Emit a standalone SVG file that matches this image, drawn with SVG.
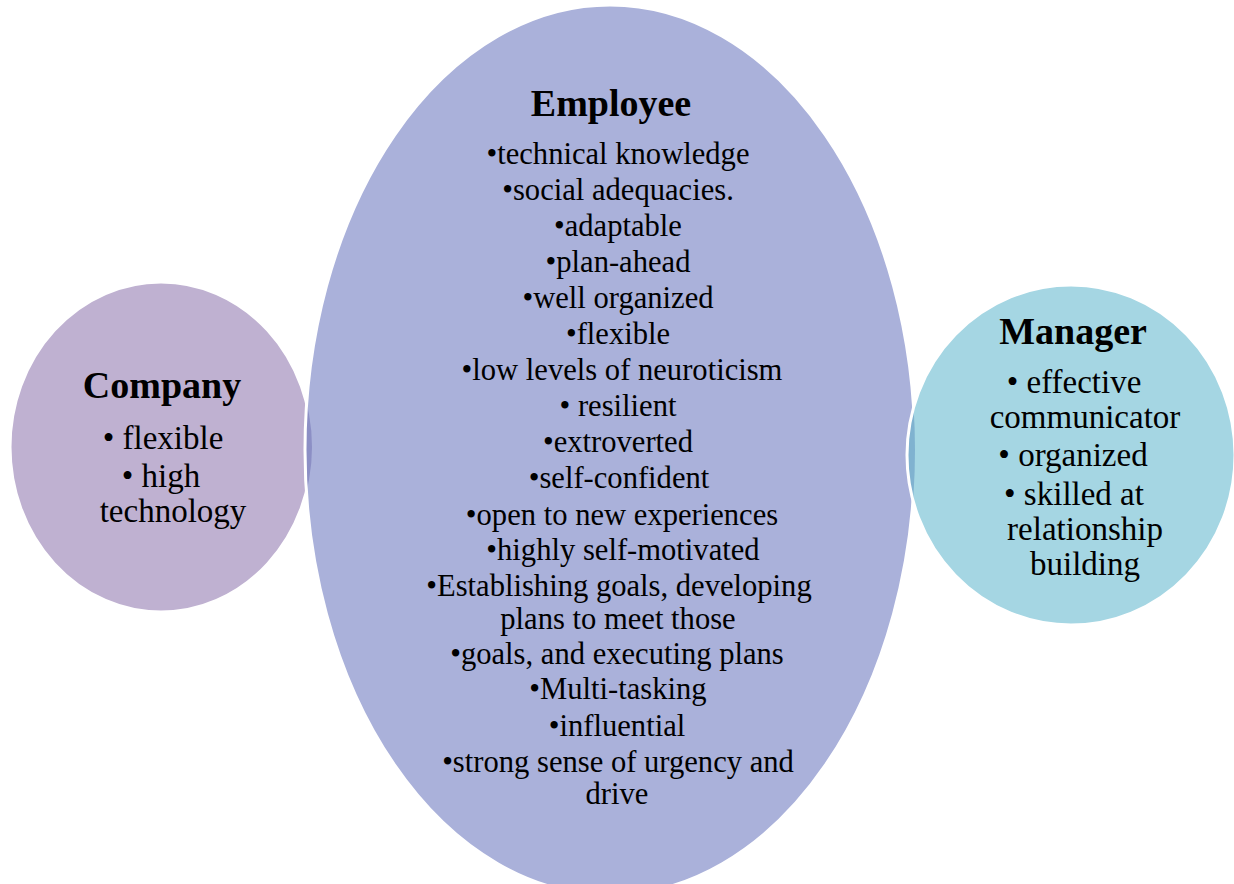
<svg xmlns="http://www.w3.org/2000/svg" width="1234" height="884" viewBox="0 0 1234 884">
<style>
.t{font-family:"Liberation Serif","Times New Roman",serif;fill:#000;text-anchor:middle}
.h{font-size:38px;font-weight:bold}
.e{font-size:30.6px}
.s{font-size:33px}
.out{fill:none;stroke:#fff;stroke-width:3}
</style>
<defs>
<clipPath id="clipEmp"><ellipse cx="610" cy="450" rx="305" ry="445"/></clipPath>
<clipPath id="clipMgr"><ellipse cx="1071" cy="455" rx="164" ry="170"/></clipPath>
</defs>
<rect width="1234" height="884" fill="#fff"/>
<g id="company">
<ellipse cx="161" cy="447" rx="151" ry="165" fill="#bfb1d1" stroke="#fff" stroke-width="3"/>
</g>
<g id="employee">
<ellipse cx="610" cy="450" rx="305" ry="445" fill="#aab1da"/>
<ellipse cx="161" cy="447" rx="151" ry="165" fill="#8c8fc5" clip-path="url(#clipEmp)"/>
<ellipse class="out" cx="610" cy="450" rx="305" ry="445"/>
</g>
<g id="manager">
<ellipse cx="1071" cy="455" rx="164" ry="170" fill="#a5d6e3"/>
<ellipse cx="610" cy="450" rx="305" ry="445" fill="#80b2d0" clip-path="url(#clipMgr)"/>
<ellipse class="out" cx="1071" cy="455" rx="164" ry="170"/>
</g>
<g id="company-text" class="t">
<text class="h" x="162" y="398">Company</text>
<text class="s" x="163" y="449">• flexible</text>
<text class="s" x="161" y="487">• high</text>
<text class="s" x="173" y="522">technology</text>
</g>
<g id="employee-text" class="t">
<text class="h" x="611" y="116">Employee</text>
<g class="e">
<text x="618" y="164">•technical knowledge</text>
<text x="618" y="200">•social adequacies.</text>
<text x="618" y="236">•adaptable</text>
<text x="618" y="272">•plan-ahead</text>
<text x="618" y="308">•well organized</text>
<text x="618" y="344">•flexible</text>
<text x="622" y="380">•low levels of neuroticism</text>
<text x="618" y="416">• resilient</text>
<text x="618" y="452">•extroverted</text>
<text x="619" y="488">•self-confident</text>
<text x="622" y="525">•open to new experiences</text>
<text x="623" y="560">•highly self-motivated</text>
<text x="619" y="596">•Establishing goals, developing</text>
<text x="618" y="629">plans to meet those</text>
<text x="617" y="664">•goals, and executing plans</text>
<text x="618" y="699">•Multi-tasking</text>
<text x="617" y="736">•influential</text>
<text x="618" y="772">•strong sense of urgency and</text>
<text x="617" y="804">drive</text>
</g>
</g>
<g id="manager-text" class="t">
<text class="h" x="1073" y="344">Manager</text>
<text class="s" x="1074" y="393">• effective</text>
<text class="s" x="1085" y="428">communicator</text>
<text class="s" x="1073" y="466">• organized</text>
<text class="s" x="1074" y="505">• skilled at</text>
<text class="s" x="1085" y="540">relationship</text>
<text class="s" x="1085" y="575">building</text>
</g>
<g id="connectors"/>
</svg>
